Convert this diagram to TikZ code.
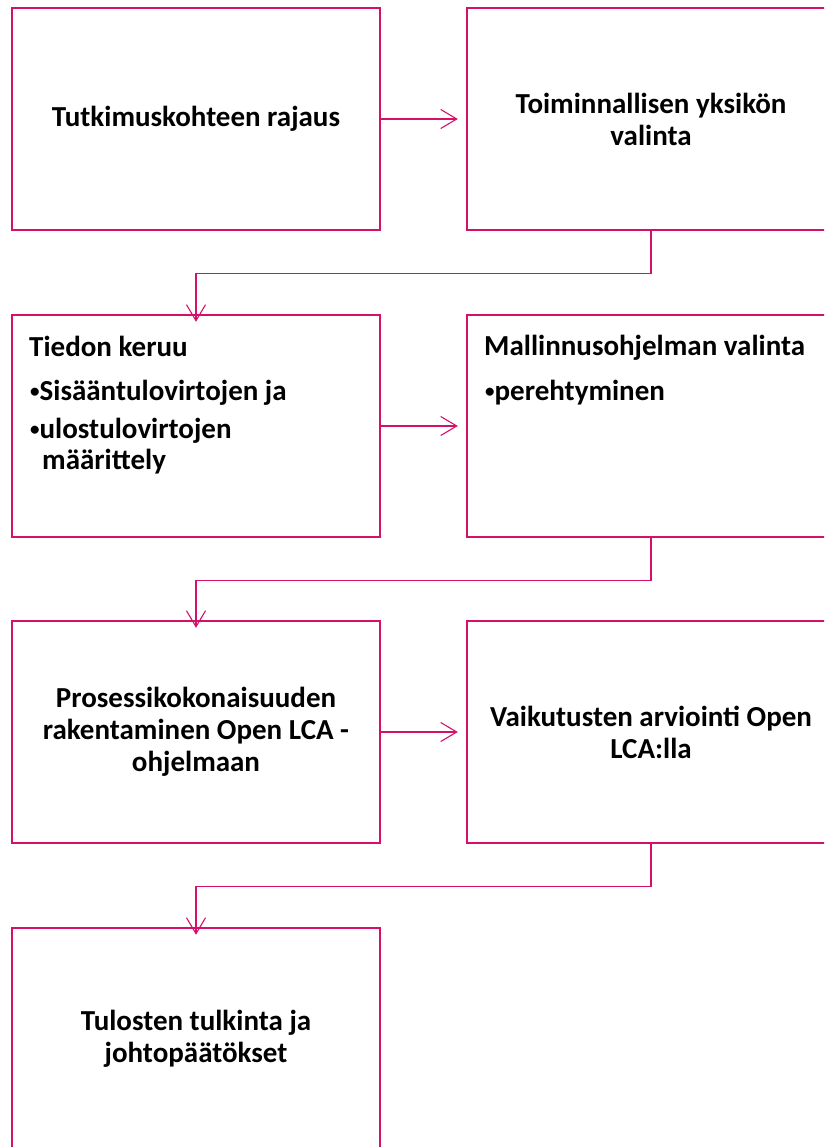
\documentclass[tikz,border=0pt]{standalone}
\usepackage{fontspec}
\setmainfont{Carlito}
\usetikzlibrary{arrows.meta}
\definecolor{flowpink}{RGB}{213,16,107}
\newcommand\listdot{\raisebox{2.6pt}{\fontsize{19}{19}\selectfont •}}
\tikzset{
  stepbox/.style={draw=flowpink, line width=2.4pt, minimum width=368pt, minimum height=222pt, inner sep=0pt},
  label/.style={font=\fontsize{29}{32}\selectfont\bfseries, inner sep=0pt, align=center},
  textline/.style={font=\fontsize{29}{32}\selectfont\bfseries, inner sep=0pt, anchor=base west},
  flow/.style={draw=flowpink, line width=1.1pt, -{Straight Barb[length=16pt,width=19pt,line width=1.1pt]}}
}
\begin{document}
\begin{tikzpicture}[x=1pt,y=-1pt]
  \useasboundingbox (0,0) rectangle (824,1147);
  \clip (0,0) rectangle (824,1147);
  \fill[white] (0,0) rectangle (824,1147);

  % row 1
  \node[stepbox] (b1) at (196,119) {};
  \node[stepbox] (b2) at (651,119) {};
  \node[label] (t1) at (b1.center) {Tutkimuskohteen rajaus};
  \node[label] (t2) at (b2.center) {Toiminnallisen yksikön\\valinta};

  % row 2
  \node[stepbox] (b3) at (196,426) {};
  \node[stepbox] (b4) at (651,426) {};
  \node[textline] (t3a) at (29,356) {Tiedon keruu};
  \node[textline] (t3b) at (30,400) {\listdot Sisääntulovirtojen ja};
  \node[textline] (t3c) at (30,438) {\listdot ulostulovirtojen};
  \node[textline] (t3d) at (42,469) {määrittely};
  \node[textline] (t4a) at (484,355) {Mallinnusohjelman valinta};
  \node[textline] (t4b) at (485,400) {\listdot perehtyminen};

  % row 3
  \node[stepbox] (b5) at (196,732) {};
  \node[stepbox] (b6) at (651,732) {};
  \node[label] (t5) at (b5.center) {Prosessikokonaisuuden\\rakentaminen Open LCA -\\ohjelmaan};
  \node[label] (t6) at (b6.center) {Vaikutusten arviointi Open\\LCA:lla};

  % row 4
  \node[stepbox] (b7) at (196,1039) {};
  \node[label] (t7) at (b7.center) {Tulosten tulkinta ja\\johtopäätökset};

  % horizontal links
  \draw[flow] (b1.east) -- ([xshift=-8pt]b2.west);
  \draw[flow] (b3.east) -- ([xshift=-8pt]b4.west);
  \draw[flow] (b5.east) -- ([xshift=-8pt]b6.west);

  % elbow links down to the next row
  \draw[flow] (b2.south) -- ++(0,42) -| ([yshift=-8pt]b3.north);
  \draw[flow] (b4.south) -- ++(0,42) -| ([yshift=-8pt]b5.north);
  \draw[flow] (b6.south) -- ++(0,42) -| ([yshift=-8pt]b7.north);
\end{tikzpicture}
\end{document}
